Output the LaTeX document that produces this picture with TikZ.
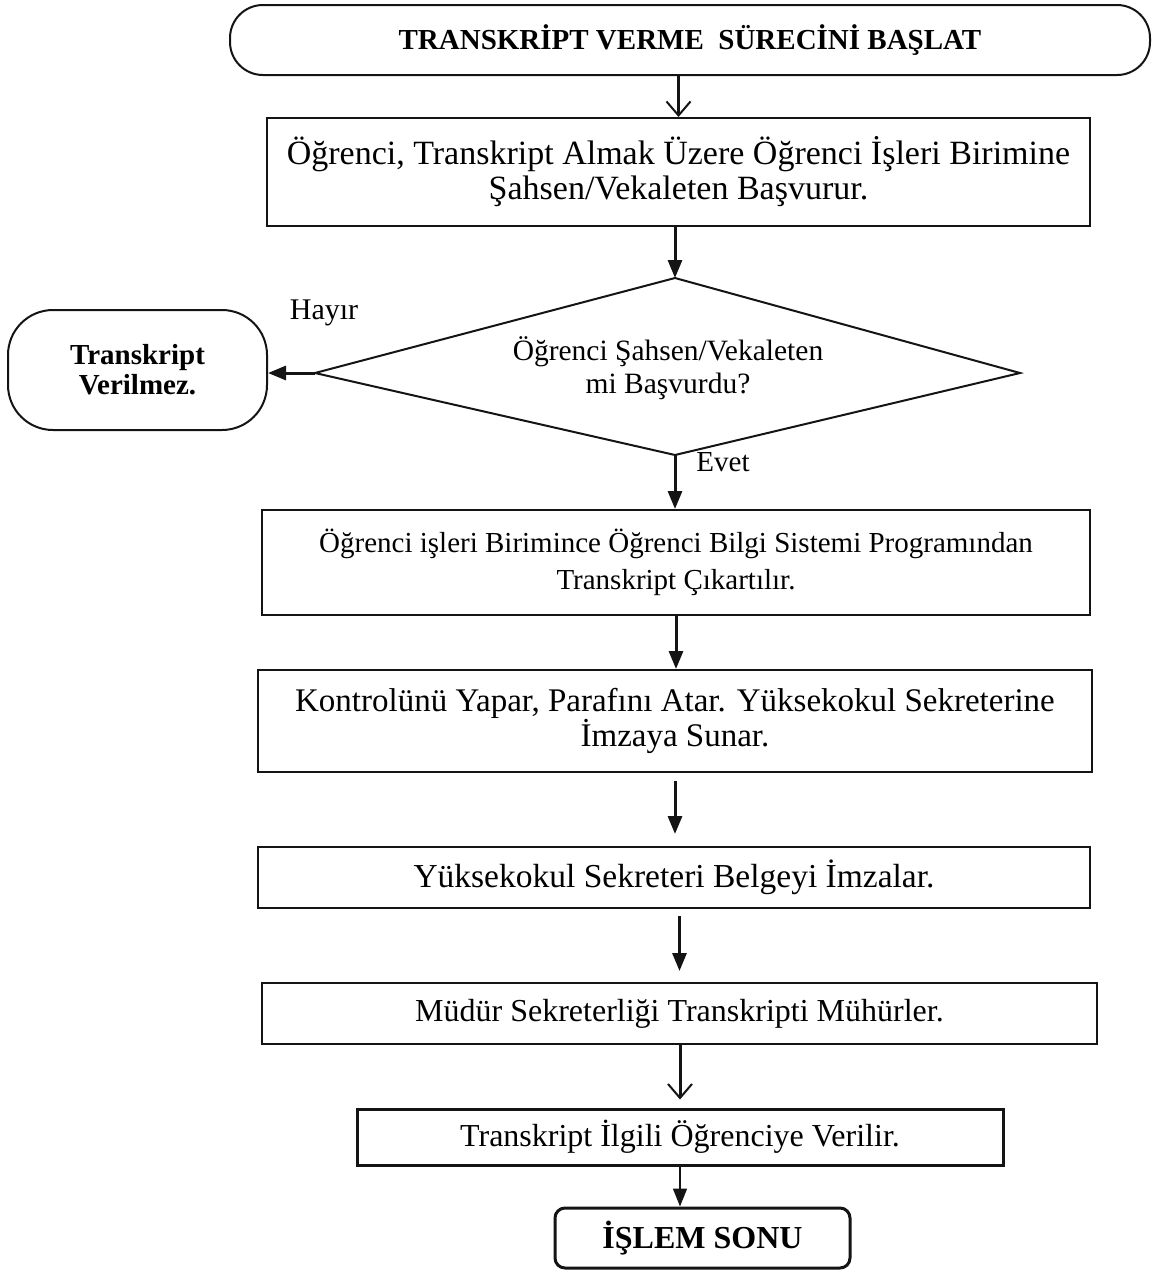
\documentclass[tikz,border=0pt]{standalone}
\usepackage{fontspec}
\setmainfont{Liberation Serif}
\usepackage{tikz}
\usetikzlibrary{arrows.meta,calc}
\definecolor{inkblack}{HTML}{141414}
\newcommand{\fs}[2]{\fontsize{#1}{#2}\selectfont}
\tikzset{every node/.append style={font=\rmfamily},
  stepbox/.style={draw=inkblack,line width=2pt,inner sep=0pt,align=center},
  endbox/.style={stepbox,line width=3pt},
  flow/.style={draw=inkblack,line width=3pt,-{Triangle[length=18pt,width=14pt]}},
  openflow/.style={draw=inkblack,line width=3pt,-{Straight Barb[length=14pt,width=24pt,line width=2pt]}}}

\begin{document}
\begin{tikzpicture}[x=1pt,y=-1pt]
\useasboundingbox (0,0) rectangle (1155,1270);
\node[stepbox,rounded corners=33pt,minimum width=920pt,minimum height=70pt,font=\fs{29}{34}\bfseries] (start) at (690,40) {TRANSKRİPT VERME \ SÜRECİNİ BAŞLAT};
\node[stepbox,minimum width=823pt,minimum height=108pt,font=\fs{34}{35}] (apply) at (678.5,172) {Öğrenci, Transkript Almak Üzere Öğrenci İşleri Birimine\\Şahsen/Vekaleten Başvurur.};
% karar elmasi
\coordinate (askN) at (675,278);
\coordinate (askE) at (1020,373);
\coordinate (askS) at (675,455);
\coordinate (askW) at (315,373);
\draw[inkblack,line width=2pt,line join=miter] (askN) -- (askE) -- (askS) -- (askW) -- cycle;
\node[align=center,font=\fs{29.5}{33}] (ask) at (668,368) {Öğrenci Şahsen/Vekaleten\\mi Başvurdu?};
\node[stepbox,rounded corners=45pt,minimum width=259pt,minimum height=120pt,font=\fs{29}{30}\bfseries] (refuse) at (137.5,370) {Transkript\\Verilmez.};
\node[font=\fs{30}{32}] (no) at (324,313) {Hayır};
\node[font=\fs{29}{32}] (yes) at (723,462) {Evet};
\node[stepbox,minimum width=828pt,minimum height=105pt,font=\fs{29}{37}] (print) at (676,562.5) {Öğrenci işleri Birimince Öğrenci Bilgi Sistemi Programından\\Transkript Çıkartılır.};
\node[stepbox,minimum width=834pt,minimum height=102pt,font=\fs{33}{31}] (check) at (675,721) {Kontrolünü Yapar, Parafını Atar. Yüksekokul Sekreterine\\İmzaya Sunar.};
\node[stepbox,minimum width=832pt,minimum height=61pt,font=\fs{33.5}{36}] (sign) at (674,877.5) {Yüksekokul Sekreteri Belgeyi İmzalar.};
\node[stepbox,minimum width=835pt,minimum height=61pt,font=\fs{32}{36}] (seal) at (679.5,1013.5) {Müdür Sekreterliği Transkripti Mühürler.};
\node[endbox,minimum width=646pt,minimum height=56pt,font=\fs{32}{36}] (give) at (680,1137) {Transkript İlgili Öğrenciye Verilir.};
\node[endbox,rounded corners=10pt,minimum width=295pt,minimum height=60pt,font=\fs{32}{36}\bfseries] (finish) at (702.5,1238) {İŞLEM SONU};
% akis oklari
\draw[openflow] (apply.north |- start.south) -- (apply.north);
\draw[flow] (apply.south -| askN) -- (askN);
\draw[flow] (askW) -- (askW -| refuse.east);
\draw[flow] (askS) -- (askS |- print.north);
\draw[flow] (print.south) -- (print.south |- check.north);
\draw[flow,shorten <=8pt,shorten >=12pt] (check.south) -- (check.south |- sign.north);
\draw[flow,shorten <=7pt,shorten >=11pt] (sign.south -| seal.north) -- (seal.north);
\draw[openflow,shorten >=8pt] (give.north |- seal.south) -- (give.north);
\draw[flow,line width=1.5pt] (give.south) -- (give.south |- finish.north);
\end{tikzpicture}
\end{document}
